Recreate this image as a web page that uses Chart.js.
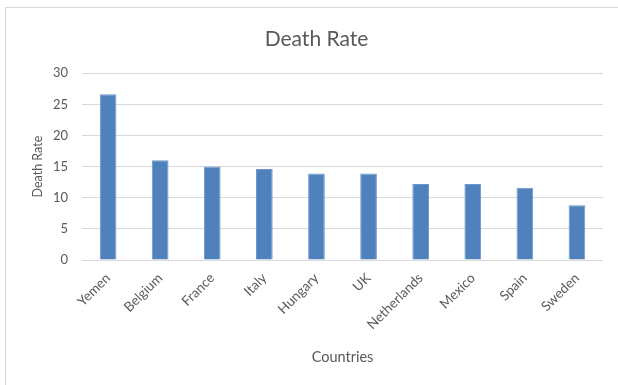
<!DOCTYPE html>
<html>
<head>
<meta charset="utf-8">
<script src="https://cdn.jsdelivr.net/npm/chart.js@4.4.1/dist/chart.umd.min.js"></script>
<style>
  html, body { margin: 0; padding: 0; background: #fff; }
  #frame {
    position: absolute; left: 5px; top: 7px;
    width: 620px; height: 390px;
    border: 1px solid #d9d9d9; box-sizing: border-box;
  }
  #wrap { position: absolute; left: 0; top: 0; width: 618px; height: 385px; }
</style>
</head>
<body>
<div id="frame"></div>
<div id="wrap"><canvas id="myChart"></canvas></div>
<script>
const countries = ['Yemen', 'Belgium', 'France', 'Italy', 'Hungary', 'UK', 'Netherlands', 'Mexico', 'Spain', 'Sweden'];
const deathRate = [26.6, 16.0, 15.0, 14.6, 13.9, 13.9, 12.2, 12.2, 11.6, 8.8];
const yTicks = [0, 5, 10, 15, 20, 25, 30];

const textGray = '#595959';
const fontFamily = 'Lato, "Open Sans", sans-serif';

const config = {
    type: 'bar',
    data: {
        labels: countries,
        datasets: [
            {
                data: deathRate,
                label: 'Death Rate',
                backgroundColor: '#4f81bd',
                borderColor: '#6d97c9',
                borderWidth: 1,
                barPercentage: 0.64,
                categoryPercentage: 0.5,
            },
        ],
    },
    options: {
        responsive: true,
        maintainAspectRatio: false,
        animation: false,
        layout: { padding: { left: 30, right: 15, top: 27, bottom: 19 } },
        plugins: {
            legend: { display: false },
            tooltip: { enabled: false },
            title: {
                display: true,
                text: 'Death Rate',
                color: textGray,
                font: { family: fontFamily, size: 21, weight: 'normal' },
                padding: { top: 0, bottom: 21 },
            },
        },
        scales: {
            x: {
                // keep the rotated labels from pushing the plot inward
                afterFit: (scale) => {
                    scale.paddingLeft = 0;
                    scale.paddingRight = 0;
                    scale.height = 106;
                },
                grid: { display: false },
                border: { display: false },
                ticks: {
                    color: textGray,
                    font: { family: fontFamily, size: 13.5 },
                    minRotation: 45,
                    maxRotation: 45,
                    padding: 2,
                },
                title: {
                    display: true,
                    text: 'Countries',
                    color: textGray,
                    font: { family: fontFamily, size: 14.5 },
                    padding: { top: 0, bottom: 0 },
                },
            },
            y: {
                min: 0,
                max: 30,
                afterBuildTicks: (axis) => { axis.ticks = yTicks.map(v => ({ value: v })); },
                afterFit: (scale) => { scale.width = 52; },
                grid: { color: '#d9d9d9', drawTicks: false },
                border: { display: false },
                ticks: {
                    color: textGray,
                    font: { family: fontFamily, size: 13 },
                    padding: 14,
                },
                title: {
                    display: true,
                    text: 'Death Rate',
                    color: textGray,
                    font: { family: fontFamily, size: 12.5 },
                    padding: { top: 0, bottom: 0 },
                },
            },
        },
    },
};

new Chart(document.getElementById('myChart').getContext('2d'), config);
</script>
</body>
</html>
